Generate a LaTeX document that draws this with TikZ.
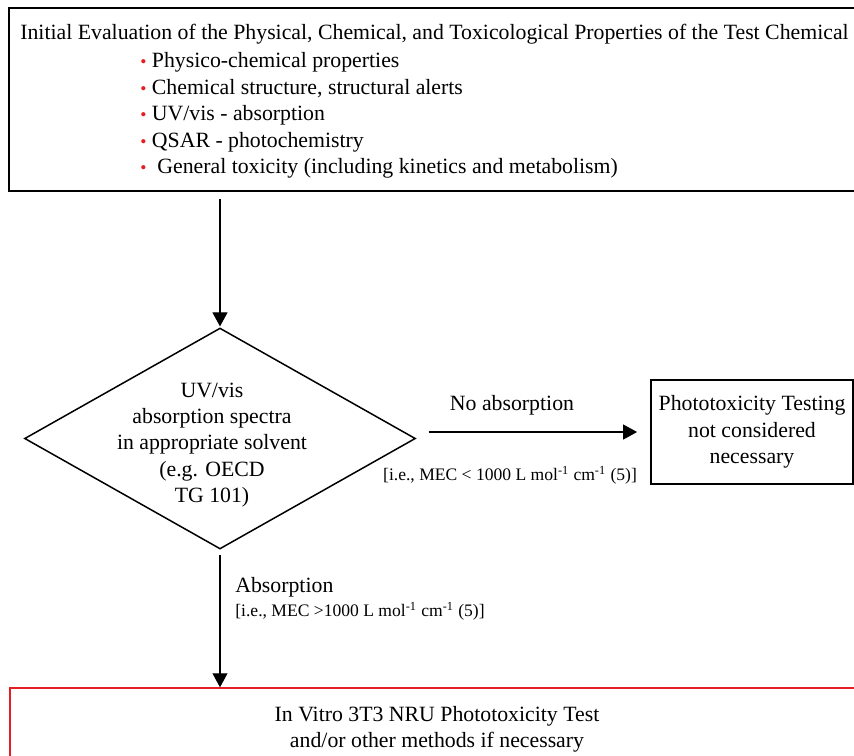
\documentclass[tikz,border=0pt]{standalone}
\usepackage{fontspec}
\setmainfont{Liberation Serif}
\usetikzlibrary{shapes.geometric,arrows.meta}
\definecolor{alertred}{RGB}{228,30,36}
\newcommand{\alertdot}{{\color{alertred}\fontsize{10}{10}\selectfont\textbullet}}

\begin{document}
\begin{tikzpicture}[x=0.02cm, y=-0.02cm,
  txt/.style={font=\fontsize{12.4}{15}\selectfont, align=center, inner sep=0pt},
  small/.style={font=\fontsize{10}{11}\selectfont, inner sep=0pt},
  box/.style={draw, line width=0.85pt, inner sep=0pt, txt},
  flow/.style={draw, line width=0.6pt, -{Triangle[length=0.28cm, width=0.3cm]}}]
\useasboundingbox (0,0) rectangle (854,755);
\clip (0,0) rectangle (854,755);
\node[box, minimum width=17.1cm, minimum height=3.66cm] (eval) at (436.5,99.5) {};
\node[txt, anchor=west] (evaltitle) at (20,34) {Initial Evaluation of the Physical, Chemical, and Toxicological Properties of the Test Chemical};
\node[txt, anchor=north west, align=left, font=\fontsize{12.4}{15.1}\selectfont] (props) at (140,52) {\alertdot\ Physico-chemical properties\\
  \alertdot\ Chemical structure, structural alerts\\
  \alertdot\ UV/vis - absorption\\
  \alertdot\ QSAR - photochemistry\\
  \alertdot\ \ General toxicity (including kinetics and metabolism)};
\node[box, shape=diamond, minimum width=7.82cm, minimum height=4.42cm] (uvvis) at (220,438.5) {};
\node[txt] (uvtext) at (212,445) {UV/vis\\absorption spectra\\in appropriate solvent\\(e.g. OECD\\TG 101)};
\node[box, minimum width=4.04cm, minimum height=2.08cm] (notnec) at (752,432) {Phototoxicity Testing\\not considered\\necessary};
\node[box, draw=alertred, minimum width=17.08cm, minimum height=1.64cm] (nru) at (437,729) {In Vitro 3T3 NRU Phototoxicity Test\\and/or other methods if necessary};
\draw[flow, shorten <=4pt, shorten >=0.5pt] (eval.south -| uvvis.north) -- (uvvis.north);
\draw[flow, shorten <=3pt] (uvvis.south) -- (nru.north -| uvvis.south);
\draw[flow, shorten <=7pt, shorten >=7.5pt] (uvvis.east |- notnec.west) -- (notnec.west);
\node[txt] (noabs) at (512,405) {No absorption};
\node[small] (mecbelow) at (510,475) {[i.e., MEC < 1000 L mol\textsuperscript{-1} cm\textsuperscript{-1} (5)]};
\node[txt, anchor=west] (abs) at (235,587) {Absorption};
\node[small, anchor=west] (mecabove) at (235,611) {[i.e., MEC >1000 L mol\textsuperscript{-1} cm\textsuperscript{-1} (5)]};
\end{tikzpicture}
\end{document}
